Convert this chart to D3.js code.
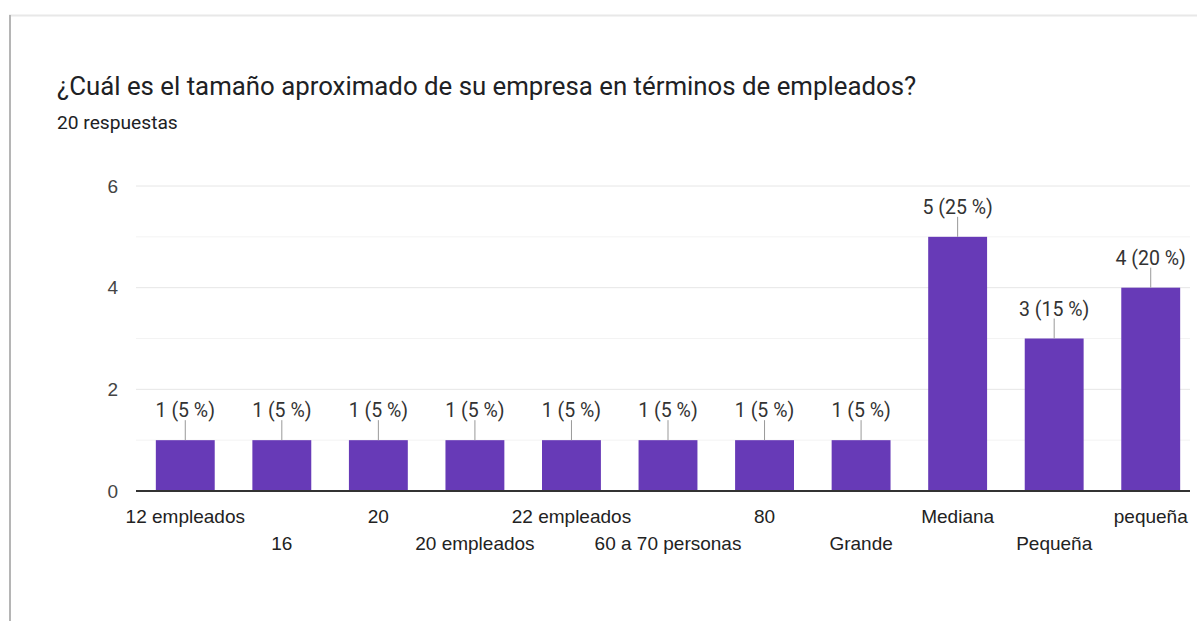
<!DOCTYPE html>
<html lang="es">
<head>
  <meta charset="UTF-8" />
  <title>Tamaño de empresa</title>
  <script src="https://cdn.jsdelivr.net/npm/d3@7"></script>
  <style>
    html, body { margin: 0; padding: 0; background: #fff; overflow: hidden; }
    svg { display: block; font-family: Roboto, "Noto Sans", sans-serif; }
  </style>
</head>
<body>
<script>
  // ------ data ------
  const categories = ["12 empleados", "16", "20", "20 empleados", "22 empleados",
                      "60 a 70 personas", "80", "Grande", "Mediana", "Pequeña", "pequeña"];
  const counts = [1, 1, 1, 1, 1, 1, 1, 1, 5, 3, 4];
  const percents = [5, 5, 5, 5, 5, 5, 5, 5, 25, 15, 20];
  const yTicks = [0, 2, 4, 6];
  const minorTicks = [1, 3, 5];

  const W = 1197, H = 621;
  const svg = d3.select("body").append("svg").attr("width", W).attr("height", H);

  // card frame
  svg.append("line").attr("x1", 9).attr("x2", W).attr("y1", 15.5).attr("y2", 15.5)
    .attr("stroke", "#e8e8e8").attr("stroke-width", 2);
  svg.append("line").attr("x1", 10).attr("x2", 10).attr("y1", 15).attr("y2", H)
    .attr("stroke", "#b5b5b5").attr("stroke-width", 2);

  // heading
  svg.append("text").attr("x", 57).attr("y", 95)
    .attr("font-size", 25.8).attr("fill", "#202124")
    .text("¿Cuál es el tamaño aproximado de su empresa en términos de empleados?");
  svg.append("text").attr("x", 57).attr("y", 129)
    .attr("font-size", 19.2).attr("fill", "#202124")
    .text("20 respuestas");

  // ------ scales ------
  const plotLeft = 136, plotRight = 1190;
  const x = d3.scaleBand().domain(categories).range([137, 1199]).paddingInner(0.39).paddingOuter(0.195);
  const y = d3.scaleLinear().domain([0, 6]).range([491, 186]);

  // gridlines
  svg.append("g").selectAll("line").data(minorTicks).join("line")
    .attr("x1", plotLeft).attr("x2", plotRight)
    .attr("y1", d => y(d)).attr("y2", d => y(d))
    .attr("stroke", "#f3f3f3").attr("stroke-width", 1);
  svg.append("g").selectAll("line").data(yTicks.filter(d => d > 0)).join("line")
    .attr("x1", plotLeft).attr("x2", plotRight)
    .attr("y1", d => y(d)).attr("y2", d => y(d))
    .attr("stroke", "#e6e6e6").attr("stroke-width", 1);

  // y axis labels
  const yAxis = svg.append("g").attr("transform", `translate(${plotLeft},0)`)
    .call(d3.axisLeft(y).tickValues(yTicks).tickFormat(d3.format("d")).tickSize(0).tickPadding(18));
  yAxis.select(".domain").remove();
  yAxis.selectAll("text").attr("font-size", 19).attr("fill", "#444").attr("font-family", null);

  // bars
  svg.append("g").selectAll("rect").data(categories).join("rect")
    .attr("x", d => x(d))
    .attr("width", x.bandwidth())
    .attr("y", (d, i) => y(counts[i]))
    .attr("height", (d, i) => y(0) - y(counts[i]))
    .attr("fill", "#673ab7");

  // baseline
  svg.append("line").attr("x1", plotLeft).attr("x2", plotRight)
    .attr("y1", y(0)).attr("y2", y(0))
    .attr("stroke", "#333").attr("stroke-width", 2);

  // annotations with leader lines
  const ann = svg.append("g").selectAll("g").data(categories).join("g")
    .attr("transform", (d, i) => `translate(${x(d) + x.bandwidth() / 2},${y(counts[i])})`);
  ann.append("line").attr("x1", 0).attr("x2", 0).attr("y1", 0).attr("y2", -20)
    .attr("stroke", "#999").attr("stroke-width", 1);
  ann.append("text").attr("y", -23).attr("text-anchor", "middle")
    .attr("font-size", 19.5).attr("fill", "#333")
    .text((d, i) => `${counts[i]} (${percents[i]} %)`);

  // x axis labels in two staggered rows
  const xAxis = svg.append("g").attr("transform", `translate(0,${y(0)})`)
    .call(d3.axisBottom(x).tickSize(0).tickPadding(0));
  xAxis.select(".domain").remove();
  xAxis.selectAll("text")
    .attr("font-size", 19).attr("fill", "#222").attr("font-family", null)
    .attr("dy", null)
    .attr("y", (d, i) => i % 2 === 0 ? 32 : 59);
</script>
</body>
</html>
